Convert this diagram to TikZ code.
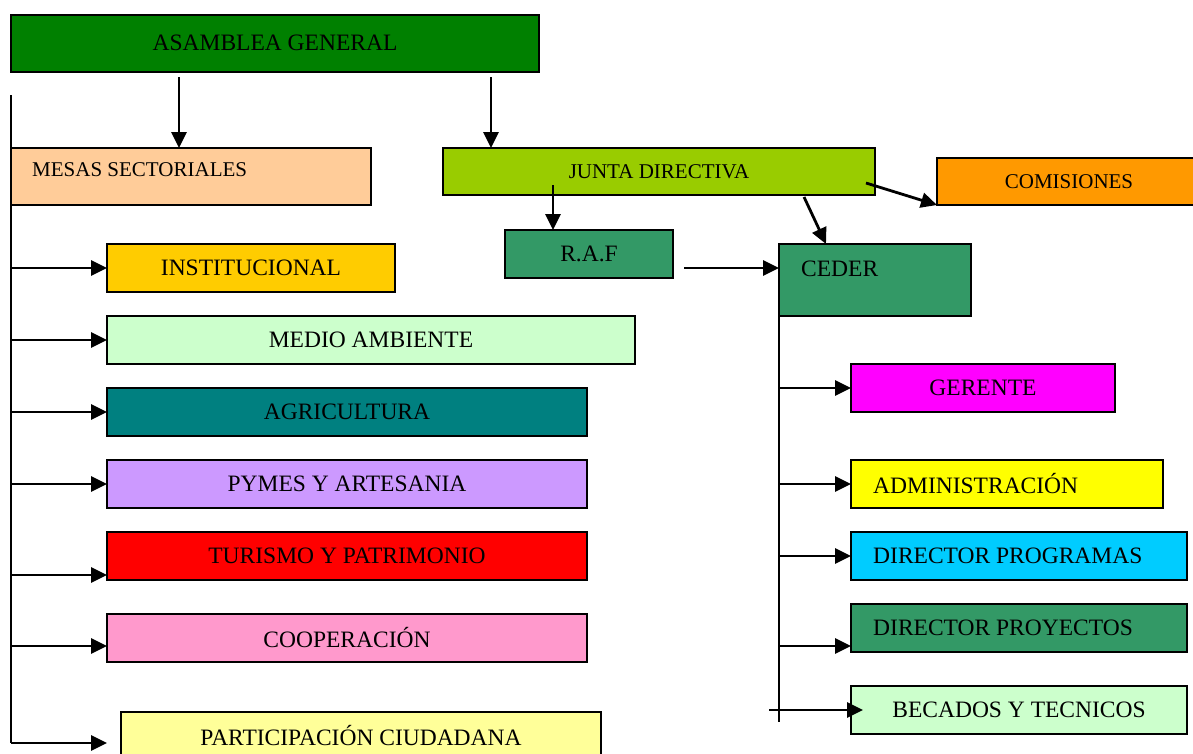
\documentclass[tikz,border=0pt]{standalone}
\usepackage{fontspec}
\setmainfont{Liberation Serif}
\usetikzlibrary{arrows.meta,calc}
\definecolor{cAG}{HTML}{008000}
\definecolor{cMS}{HTML}{FFCC99}
\definecolor{cJD}{HTML}{99CC00}
\definecolor{cCO}{HTML}{FF9900}
\definecolor{cSG}{HTML}{339966}
\definecolor{cIN}{HTML}{FFCC00}
\definecolor{cLG}{HTML}{CCFFCC}
\definecolor{cTE}{HTML}{008080}
\definecolor{cPY}{HTML}{CC99FF}
\definecolor{cTU}{HTML}{FF0000}
\definecolor{cCP}{HTML}{FF99CC}
\definecolor{cPA}{HTML}{FFFF99}
\definecolor{cGE}{HTML}{FF00FF}
\definecolor{cAD}{HTML}{FFFF00}
\definecolor{cDP}{HTML}{00CCFF}
\tikzset{
  box/.style={draw=black, line width=2.4pt, anchor=north west, inner sep=0pt, outer sep=0pt},
  big/.style={font=\fontsize{23.5}{27}\selectfont},
  small/.style={font=\fontsize{21}{25}\selectfont},
  txt/.style={inner sep=0pt, anchor=west},
  arr/.style={line width=2.8pt, -{Triangle[length=16pt,width=15pt]}},
  ln/.style={line width=2.8pt}
}
\begin{document}
\begin{tikzpicture}[x=1pt,y=-1pt]
\clip (0,0) rectangle (1193,753);
\fill[white] (0,0) rectangle (1193,753);
% top
\node[box, fill=cAG, minimum width=528, minimum height=57, big] (ag) at (11,15) {\raisebox{2pt}{ASAMBLEA GENERAL}};
\node[box, fill=cMS, minimum width=360, minimum height=57] (ms) at (11,148) {};
\node[txt, small] (mst) at (32,170) {MESAS SECTORIALES};
\node[box, fill=cJD, minimum width=432, minimum height=47, small] (jd) at (443,148) {JUNTA DIRECTIVA};
\node[box, fill=cCO, minimum width=264, minimum height=47, small] (co) at (937,158) {COMISIONES};
\node[box, fill=cSG, minimum width=168, minimum height=48, big] (raf) at (505,230) {R.A.F};
\node[box, fill=cSG, minimum width=192, minimum height=72] (ce) at (779,244) {};
\node[txt, big] (cet) at (801,269) {CEDER};
% left column
\node[box, fill=cIN, minimum width=288, minimum height=48, big] (b1) at (107,244) {INSTITUCIONAL};
\node[box, fill=cLG, minimum width=528, minimum height=48, big] (b2) at (107,316) {MEDIO AMBIENTE};
\node[box, fill=cTE, minimum width=480, minimum height=48, big] (b3) at (107,388) {AGRICULTURA};
\node[box, fill=cPY, minimum width=480, minimum height=48, big] (b4) at (107,460) {PYMES Y ARTESANIA};
\node[box, fill=cTU, minimum width=480, minimum height=48, big] (b5) at (107,532) {TURISMO Y PATRIMONIO};
\node[box, fill=cCP, minimum width=480, minimum height=48, big] (b6) at (107,614) {COOPERACIÓN};
\node[box, fill=cPA, minimum width=480, minimum height=48, big] (b7) at (121,712) {PARTICIPACIÓN CIUDADANA};
% right column
\node[box, fill=cGE, minimum width=264, minimum height=48, big] (r1) at (851,364) {GERENTE};
\node[box, fill=cAD, minimum width=312, minimum height=48] (r2) at (851,460) {};
\node[txt, big] (r2t) at (873,484) {ADMINISTRACIÓN};
\node[box, fill=cDP, minimum width=336, minimum height=48] (r3) at (851,532) {};
\node[txt, big] (r3t) at (873,556) {DIRECTOR PROGRAMAS};
\node[box, fill=cSG, minimum width=336, minimum height=48] (r4) at (851,604) {};
\node[txt, big] (r4t) at (873,628) {DIRECTOR PROYECTOS};
\node[box, fill=cLG, minimum width=336, minimum height=48, big] (r5) at (851,686) {BECADOS Y TECNICOS};
% connectors from ASAMBLEA
\coordinate (a1) at (179,77);
\coordinate (a2) at (491,77);
\draw[arr] (a1) -- (a1 |- ms.north);
\draw[arr] (a2) -- (a2 |- jd.north);
% junta connectors
\coordinate (j1) at (553,185);
\coordinate (j2) at (804,197);
\coordinate (j3) at (866,183);
\coordinate (j2e) at (826,244);
\draw[arr] (j1) -- (j1 |- raf.north);
\draw[arr] (j2) -- (j2e);
\draw[arr] (j3) -- (co.south west);
\coordinate (rf) at (684,268);
\draw[arr] (rf) -- (rf -| ce.west);
% left spine
\coordinate (ltop) at (11,95);
\coordinate (lbot) at (11,743);
\draw[ln] (ltop) -- (lbot);
\draw[arr] (b1.west -| ltop) -- (b1.west);
\draw[arr] (b2.west -| ltop) -- (b2.west);
\draw[arr] (b3.west -| ltop) -- (b3.west);
\draw[arr] (b4.west -| ltop) -- (b4.west);
\coordinate (l5) at (11,575);
\draw[arr] (l5) -- (l5 -| b5.west);
\coordinate (l6) at (11,646);
\draw[arr] (l6) -- (l6 -| b6.west);
\coordinate (l7e) at (107,743);
\draw[arr] (lbot) -- (l7e);
% right spine
\coordinate (rtop) at (779,290);
\coordinate (rbot) at (779,722);
\draw[ln] (rtop) -- (rbot);
\draw[arr] (r1.west -| rtop) -- (r1.west);
\draw[arr] (r2.west -| rtop) -- (r2.west);
\draw[arr] (r3.west -| rtop) -- (r3.west);
\coordinate (q4) at (779,646);
\draw[arr] (q4) -- (q4 -| r4.west);
\coordinate (q5) at (769,710);
\coordinate (q5e) at (863,710);
\draw[arr] (q5) -- (q5e);
\end{tikzpicture}
\end{document}
